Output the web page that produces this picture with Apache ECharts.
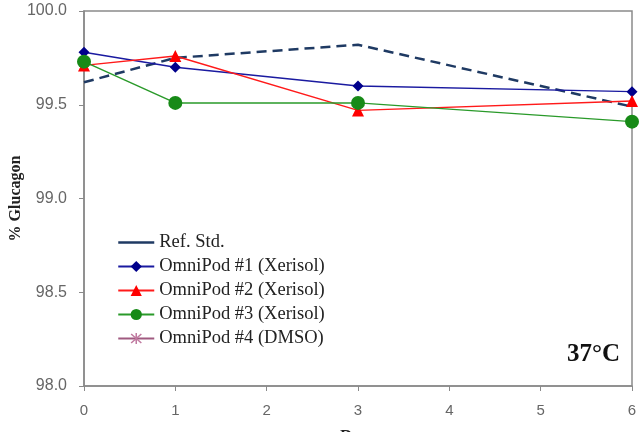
<!DOCTYPE html>
<html><head><meta charset="utf-8">
<script src="https://cdn.jsdelivr.net/npm/echarts@6/dist/echarts.min.js"></script>
<style>html,body{margin:0;padding:0;background:#fff}#c{width:640px;height:432px}</style>
</head><body><div id="c"></div>
<script>
const days = [0, 1, 3, 6];
const refStd = [99.62, 99.75, 99.82, 99.49];
const pod1 = [99.78, 99.70, 99.60, 99.57];
const pod2 = [99.71, 99.76, 99.47, 99.52];
const pod3 = [99.73, 99.51, 99.51, 99.41];
const pod4 = [];
const yTicks = [98.0, 98.5, 99.0, 99.5, 100.0];
const xTicks = [0, 1, 2, 3, 4, 5, 6];

const pair = arr => arr.map((v, i) => [days[i], v]);
const asterisk = 'path://M4.4 0 L5.6 0 L5.6 10 L4.4 10 Z M0.6 1.4 L1.4 0.6 L9.4 8.6 L8.6 9.4 Z M8.6 0.6 L9.4 1.4 L1.4 9.4 L0.6 8.6 Z';

const chart = echarts.init(document.getElementById('c'), null, {renderer: 'canvas'});
chart.setOption({
  backgroundColor: '#fff',
  animation: false,
  grid: {left: 84, right: 8, top: 11, bottom: 46, outerBoundsMode: 'none', containLabel: false,
         show: true, borderColor: '#8a8a8a', borderWidth: 1.5, backgroundColor: 'transparent'},
  xAxis: {
    type: 'value', min: xTicks[0], max: xTicks[xTicks.length - 1], interval: 1,
    name: 'Days', nameLocation: 'middle', nameGap: 42, nameMoveOverlap: false,
    nameTextStyle: {fontFamily: 'Liberation Serif', fontWeight: 'bold', fontSize: 17, color: '#222'},
    axisLine: {lineStyle: {color: '#8a8a8a', width: 1.5}},
    axisTick: {inside: false, length: 5, lineStyle: {color: '#8a8a8a'}},
    axisLabel: {margin: 17, fontFamily: 'Liberation Sans', fontSize: 15, color: '#666'},
    splitLine: {show: false}
  },
  yAxis: {
    type: 'value', min: yTicks[0], max: yTicks[yTicks.length - 1], interval: 0.5,
    name: '% Glucagon', nameLocation: 'middle', nameGap: 60, nameRotate: 90, nameMoveOverlap: false,
    nameTextStyle: {fontFamily: 'Liberation Serif', fontWeight: 'bold', fontSize: 16, color: '#222'},
    axisLine: {lineStyle: {color: '#8a8a8a', width: 1.5}},
    axisTick: {length: 5, lineStyle: {color: '#8a8a8a'}},
    axisLabel: {margin: 17, fontFamily: 'Liberation Sans', fontSize: 16, color: '#666', formatter: v => v.toFixed(1)},
    splitLine: {show: false}
  },
  legend: {
    orient: 'vertical', left: 112, top: 228, itemGap: 5, itemWidth: 36, itemHeight: 14,
    textStyle: {fontFamily: 'Liberation Serif', fontSize: 18.5, color: '#222'},
    data: [
      {name: 'Ref. Std.', itemStyle: {color: 'rgba(0,0,0,0)', borderWidth: 0, opacity: 0},
       lineStyle: {type: 'solid', width: 2.5, color: '#1f3a63'}},
      'OmniPod #1 (Xerisol)', 'OmniPod #2 (Xerisol)', 'OmniPod #3 (Xerisol)', 'OmniPod #4 (DMSO)'
    ]
  },
  graphic: [{
    type: 'text', left: 567, top: 342,
    style: {text: '37°C', font: 'bold 25px "Liberation Serif"', fill: '#111'}
  }],
  series: [
    {name: 'Ref. Std.', type: 'line', data: pair(refStd), showSymbol: false, symbol: 'none',
     lineStyle: {color: '#1f3a63', width: 2.5, type: [10, 6]}, itemStyle: {color: '#1f3a63'}, z: 1},
    {name: 'OmniPod #1 (Xerisol)', type: 'line', data: pair(pod1), symbol: 'diamond', symbolSize: 11,
     lineStyle: {color: '#1a1aa0', width: 1.5}, itemStyle: {color: '#00008b'}},
    {name: 'OmniPod #2 (Xerisol)', type: 'line', data: pair(pod2), symbol: 'triangle', symbolSize: 12,
     lineStyle: {color: '#ff1a1a', width: 1.5}, itemStyle: {color: '#ff0000'}},
    {name: 'OmniPod #3 (Xerisol)', type: 'line', data: pair(pod3), symbol: 'circle', symbolSize: 14,
     lineStyle: {color: '#2a9a2a', width: 1.5}, itemStyle: {color: '#178a17'}},
    {name: 'OmniPod #4 (DMSO)', type: 'line', data: pod4, symbol: asterisk, symbolSize: 10,
     lineStyle: {color: '#a05a80', width: 1.5}, itemStyle: {color: '#c07aa0'}}
  ]
});
</script></body></html>
